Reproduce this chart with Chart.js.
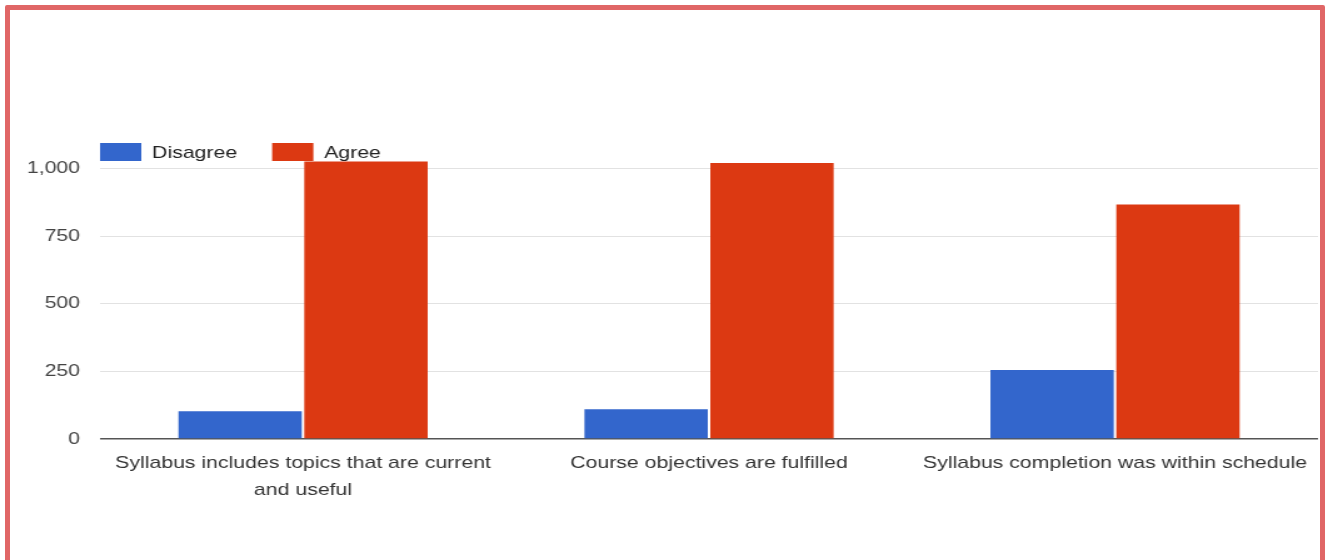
<!DOCTYPE html>
<html>
<head>
<meta charset="utf-8">
<script src="https://cdn.jsdelivr.net/npm/chart.js@4"></script>
<style>
  html, body { margin: 0; padding: 0; background: #fff; overflow: hidden; }
  #wrap { position: relative; width: 1328px; height: 560px; overflow: hidden; }
  /* the original screenshot is stretched sideways, so the chart is too */
  #stretch { width: 1062px; height: 560px; transform: scaleX(1.2505); transform-origin: 0 0; }
  #frame {
    position: absolute; left: 5px; top: 5px; width: 1320px; height: 620px;
    box-sizing: border-box; border: 5px solid #e06666; border-radius: 2px;
    pointer-events: none;
  }
</style>
</head>
<body>
<div id="wrap">
  <div id="stretch"><canvas id="chart" width="1062" height="560"></canvas></div>
  <div id="frame"></div>
</div>
<script>
// Data
const categories = [
  ["Syllabus includes topics that are current", "and useful"],
  "Course objectives are fulfilled",
  "Syllabus completion was within schedule"
];
const disagree = [103, 110, 255];
const agree = [1026, 1020, 867];
const yTicks = [0, 250, 500, 750, 1000];

const FONT = "'Liberation Sans', Arial, sans-serif";

// Legend drawn inside the plot top, like the original
const topLegend = {
  id: "topLegend",
  afterDraw(chart) {
    const ctx = chart.ctx;
    let x = chart.chartArea.left;
    const y = 143;
    ctx.save();
    ctx.font = "17px " + FONT;
    ctx.textBaseline = "middle";
    chart.data.datasets.forEach(ds => {
      ctx.fillStyle = ds.backgroundColor;
      ctx.fillRect(x, y, 33, 18);
      ctx.fillStyle = "#222";
      ctx.fillText(ds.label, x + 41.6, y + 10);
      x += 137.6;
    });
    ctx.restore();
  }
};

new Chart(document.getElementById("chart"), {
  type: "bar",
  data: {
    labels: categories,
    datasets: [
      { label: "Disagree", data: disagree, backgroundColor: "#3366cc" },
      { label: "Agree", data: agree, backgroundColor: "#dc3912" }
    ]
  },
  options: {
    responsive: false,
    animation: false,
    categoryPercentage: 0.62,
    barPercentage: 0.98,
    layout: { padding: { top: 155, right: 8, left: 0, bottom: 0 } },
    plugins: { legend: { display: false }, tooltip: { enabled: false } },
    scales: {
      x: {
        grid: { display: false },
        border: { display: false },
        ticks: {
          color: "#333",
          font: { family: FONT, size: 17, lineHeight: 1.6 },
          padding: 3,
          maxRotation: 0,
          autoSkip: false
        },
        afterFit(scale) { scale.height = 121; }
      },
      y: {
        min: 0,
        max: 1050,
        afterBuildTicks(scale) {
          scale.ticks = yTicks.map(v => ({ value: v }));
        },
        grid: {
          drawTicks: false,
          color: c => (c.tick && c.tick.value === 0) ? "#555" : "#e2e2e2",
          lineWidth: c => (c.tick && c.tick.value === 0) ? 1.5 : 1
        },
        border: { display: false },
        ticks: {
          color: "#444",
          font: { family: FONT, size: 17 },
          padding: 16
        },
        afterFit(scale) { scale.width = 80; }
      }
    }
  },
  plugins: [topLegend]
});
</script>
</body>
</html>
